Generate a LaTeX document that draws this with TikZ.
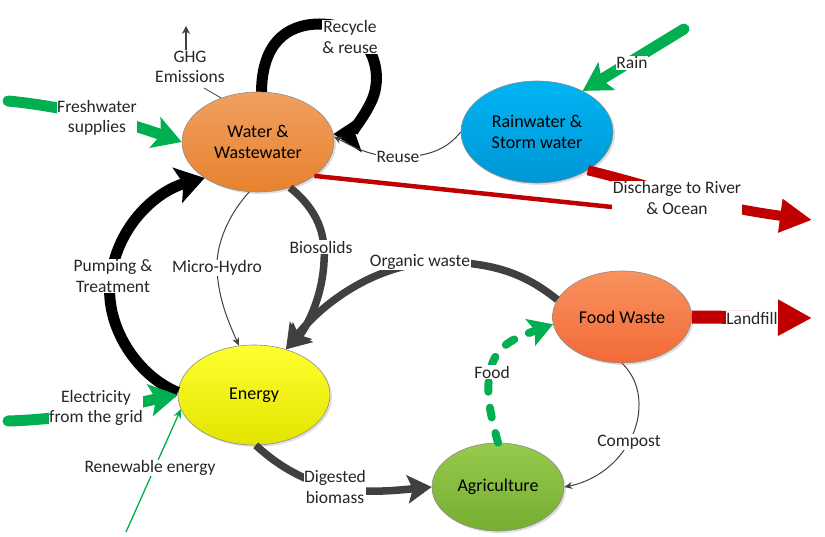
\documentclass[tikz,border=0pt]{standalone}
\usepackage{fontspec}
\setmainfont{Carlito}
\usetikzlibrary{shapes.geometric,arrows.meta,shadows,calc}
\definecolor{wwtop}{HTML}{F0A060}
\definecolor{wwbot}{HTML}{E8822E}
\definecolor{rwtop}{HTML}{00B4F2}
\definecolor{rwbot}{HTML}{0096D6}
\definecolor{entop}{HTML}{FFFF30}
\definecolor{enbot}{HTML}{E4E400}
\definecolor{fwtop}{HTML}{F8925E}
\definecolor{fwbot}{HTML}{F26A38}
\definecolor{agtop}{HTML}{96CA4C}
\definecolor{agbot}{HTML}{76AE32}
\definecolor{gr}{HTML}{00B050}
\definecolor{rd}{HTML}{C00000}
\definecolor{dg}{HTML}{404040}
\definecolor{txt}{HTML}{262626}
\begin{document}
\begin{tikzpicture}[x=1pt,y=-1pt,
  proc/.style={ellipse, draw=black!45, line width=0.6pt, inner sep=0pt, align=center,
    font=\fontsize{18}{21}\selectfont,
    drop shadow={opacity=0.25, shadow xshift=2pt, shadow yshift=-2pt}},
  lbl/.style={fill=white, inner sep=0.5pt, align=center, text=txt,
    font=\fontsize{17.5}{20.5}\selectfont},
  thinline/.style={draw=dg, line width=1pt, -{Stealth[length=8pt,width=7pt]}},
  blkline/.style={draw=black, line width=11pt, -{Stealth[length=28pt,width=36pt,inset=6pt]}},
  dgline/.style={draw=dg, line width=7.5pt, -{Stealth[length=24pt,width=28pt,inset=5pt]}},
  grline/.style={draw=gr, line width=11pt, line cap=round, -{Stealth[length=28pt,width=32pt,inset=6pt]}},
  rdline/.style={draw=rd, line width=12pt, -{Triangle[length=32pt,width=32pt]}},
]
\useasboundingbox (0,0) rectangle (825,537);

% main nodes
\node[proc, minimum width=152pt, minimum height=100pt, top color=wwtop, bottom color=wwbot] (water) at (258,142) {Water \&\\Wastewater};
\node[proc, minimum width=152pt, minimum height=102pt, top color=rwtop, bottom color=rwbot] (rain) at (537,132) {Rainwater \&\\Storm water};
\node[proc, minimum width=152pt, minimum height=100pt, top color=entop, bottom color=enbot] (energy) at (254,395) {Energy};
\node[proc, minimum width=139pt, minimum height=92pt, top color=fwtop, bottom color=fwbot] (food) at (622,317) {Food Waste};
\node[proc, minimum width=132pt, minimum height=88pt, top color=agtop, bottom color=agbot] (agri) at (498,487) {Agriculture};

% free ends
\coordinate (ghgtop) at (186,26);
\coordinate (fwstart) at (8,101);
\coordinate (elstart) at (8,421);
\coordinate (renstart) at (126,532);
\coordinate (rainstart) at (684,29);
\coordinate (disend) at (812,220);
\coordinate (disin) at (612,207);
\coordinate (landend) at (812,318);

% connectors
\draw[blkline] (water.86) .. controls (262,45) and (285,24) .. (320,24)
  .. controls (370,24) and (385,70) .. (372,100) .. controls (362,122) and (348,134) .. (water.6);
\draw[blkline] (energy.178) .. controls (135,375) and (100,320) .. (112,270)
  .. controls (122,220) and (160,190) .. (water.-146);
\draw[thinline] (water.-100) .. controls (228,215) and (216,245) .. (217,268)
  .. controls (218,300) and (230,325) .. (energy.107);
\draw[dgline] (water.-55) .. controls (318,210) and (326,235) .. (324,262)
  .. controls (322,300) and (305,330) .. (energy.55);
\draw[dgline] (food.165) .. controls (530,278) and (500,262) .. (440,262)
  .. controls (380,262) and (325,300) .. (energy.55);
\draw[dgline] (energy.-88) .. controls (275,463) and (300,480) .. (335,488)
  .. controls (365,494) and (400,490) .. (agri.west);
\draw[draw=gr, line width=8pt, line cap=round, dash pattern=on 10pt off 16pt,
  -{Stealth[length=24pt,width=28pt,inset=5pt]}]
  (agri.north) .. controls (492,420) and (485,395) .. (490,372)
  .. controls (495,345) and (515,338) .. (food.186);
\draw[thinline] (food.-90) .. controls (645,385) and (642,420) .. (629,442)
  .. controls (615,468) and (590,482) .. (agri.east);
\draw[thinline] (rain.west) .. controls (448,148) and (430,157) .. (398,157)
  .. controls (370,157) and (352,146) .. (water.4);
\draw[draw=dg, line width=0.8pt] (water.130) -- (204,88);
\draw[grline] (fwstart) .. controls (60,106) and (120,120) .. (water.west);
\draw[grline] (elstart) .. controls (80,419) and (140,402) .. (energy.180);
\draw[draw=gr, line width=1.3pt, -{Stealth[length=9pt,width=8pt]}] (renstart) -- (energy.191);
\draw[grline] (rainstart) -- (rain.42);
\draw[rdline, line width=10pt] (rain.-37) .. controls (650,185) and (700,205) .. (disend);
\draw[draw=rd, line width=4.5pt] (water.-31) -- (disin);
\draw[rdline, line width=13pt, -{Triangle[length=34pt,width=34pt]}] (food.east) -- (landend);

% labels
\node[lbl, fill=none] (ghg) at (190,67) {GHG\\Emissions};
\draw[draw=dg, line width=1.2pt, -{Stealth[length=8pt,width=8pt]}] (ghg.north -| ghgtop) -- (ghgtop);
\node[lbl] (recyc) at (350,37) {Recycle\\\& reuse};
\node[lbl] (fresh) at (97,118) {Freshwater\\supplies};
\node[lbl] (reuse) at (398,157) {Reuse};
\node[lbl] (rainl) at (632,63) {Rain};
\node[lbl] (disl) at (677,198) {Discharge to River\\\& Ocean};
\node[lbl] (pump) at (113,276) {Pumping \&\\Treatment};
\node[lbl] (micro) at (217,268) {Micro-Hydro};
\node[lbl] (bios) at (321,247) {Biosolids};
\node[lbl] (organ) at (420,262) {Organic waste};
\node[lbl] (foodl) at (492,372) {Food};
\node[lbl] (landl) at (752,318) {Landfill};
\node[lbl] (elec) at (96,408) {Electricity\\from the grid};
\node[lbl] (renew) at (150,468) {Renewable energy};
\node[lbl] (dig) at (335,487) {Digested\\biomass};
\node[lbl] (comp) at (629,442) {Compost};
\end{tikzpicture}
\end{document}
